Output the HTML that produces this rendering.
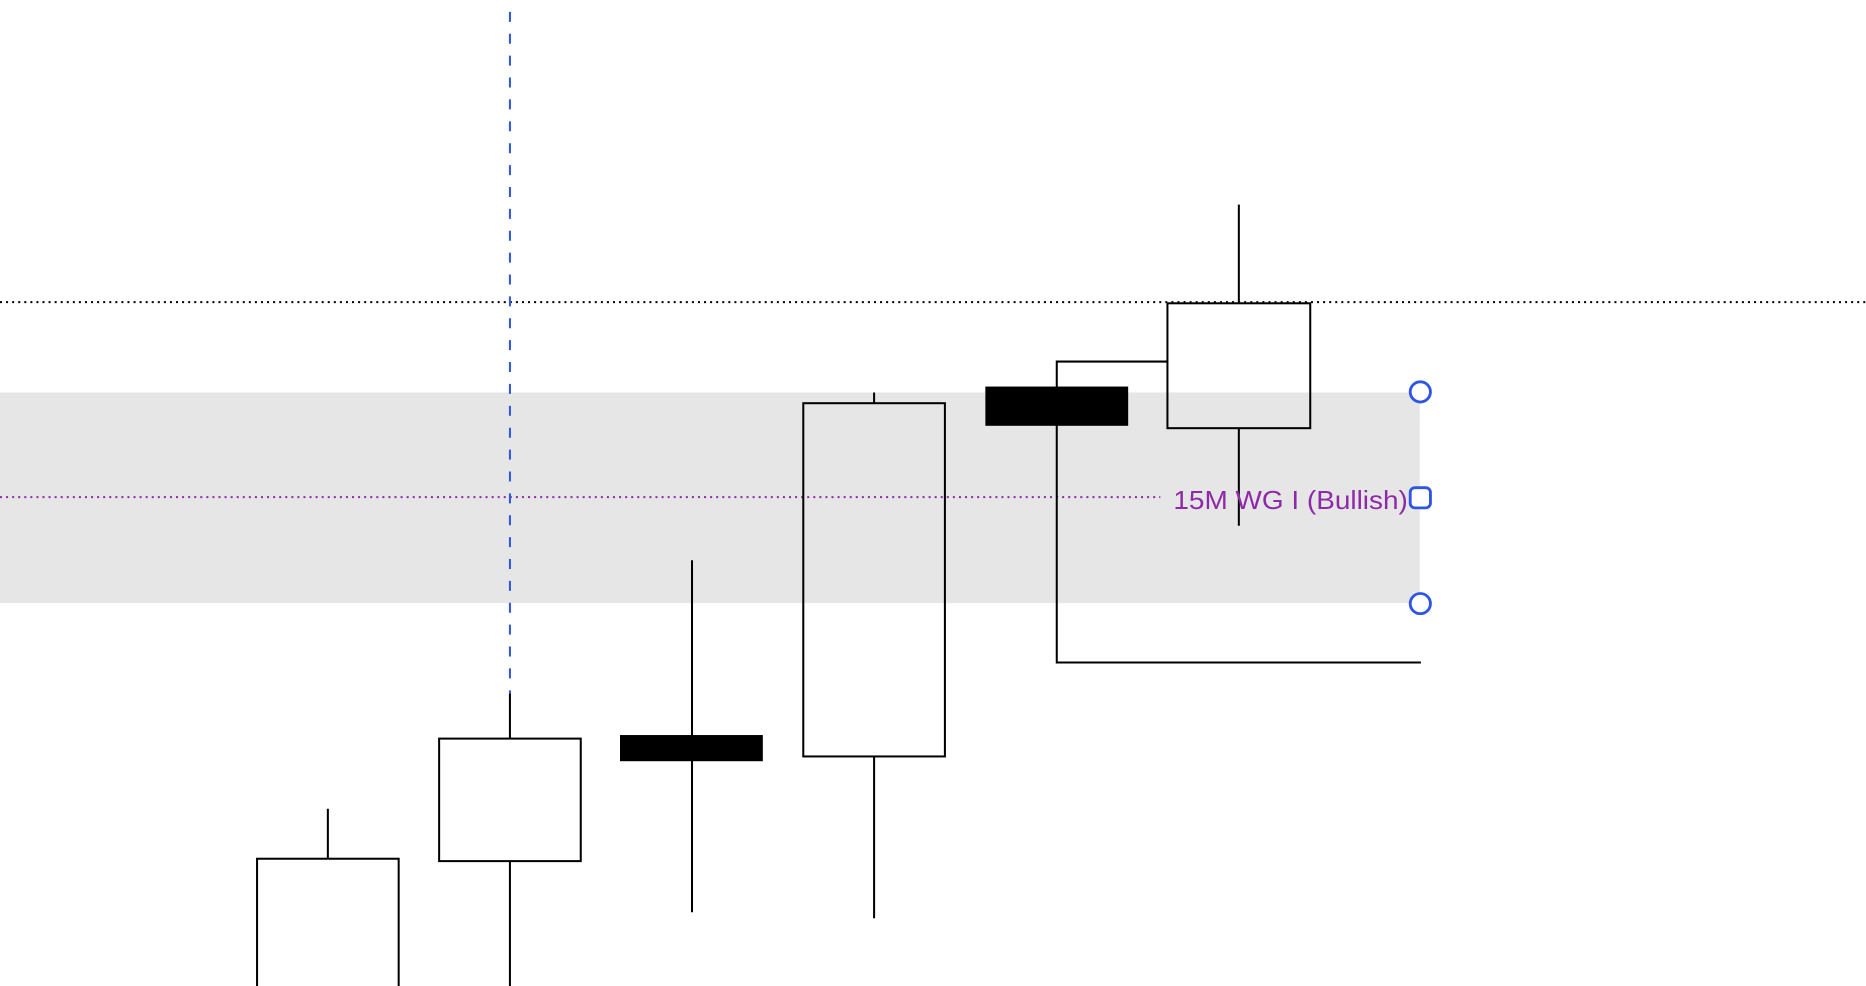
<!DOCTYPE html>
<html><head><style>html,body{margin:0;padding:0;background:#fff;overflow:hidden}svg{display:block}</style></head>
<body>
<svg width="1866" height="986" viewBox="0 0 1568 829" preserveAspectRatio="none" xmlns="http://www.w3.org/2000/svg">
<rect x="0" y="330" width="1193" height="177" fill="#e6e6e6"/>
<line x1="0" y1="254" x2="1568" y2="254" stroke="#000" stroke-width="1.7" stroke-dasharray="1.7 3.4"/>
<line x1="0" y1="418" x2="975" y2="418" stroke="#8e2aa8" stroke-width="1.7" stroke-dasharray="1.7 3.4"/>
<line x1="428.5" y1="10" x2="428.5" y2="583" stroke="#2d55e6" stroke-width="1.7" stroke-dasharray="8.4 10"/>
<g fill="none" stroke="#000" stroke-width="1.7">
<line x1="275.5" y1="680" x2="275.5" y2="722"/>
<rect x="216" y="722" width="119" height="120"/>
<line x1="428.5" y1="583" x2="428.5" y2="621"/>
<line x1="428.5" y1="724" x2="428.5" y2="829"/>
<rect x="369" y="621" width="119" height="103"/>
<line x1="581.5" y1="471" x2="581.5" y2="767"/>
<line x1="734.5" y1="330" x2="734.5" y2="339"/>
<line x1="734.5" y1="636" x2="734.5" y2="772"/>
<rect x="675" y="339" width="119" height="297"/>
<polyline points="981,304 888,304 888,557 1194,557"/>
<line x1="1041" y1="172" x2="1041" y2="255"/>
<line x1="1041" y1="360" x2="1041" y2="442"/>
<rect x="981" y="255" width="120" height="105"/>
</g>
<rect x="521" y="618" width="120" height="22" fill="#000"/>
<rect x="828" y="325" width="120" height="33" fill="#000"/>
<text x="986" y="428" font-family="Liberation Sans, sans-serif" font-size="22" textLength="197" lengthAdjust="spacingAndGlyphs" fill="#8e2aa8">15M WG I (Bullish)</text>
<g fill="#fff" stroke="#2d55e6" stroke-width="2.4">
<circle cx="1193.5" cy="329.5" r="8.5"/>
<circle cx="1193.5" cy="507.5" r="8.5"/>
<rect x="1185" y="410" width="17" height="17" rx="4"/>
</g>
</svg>
</body></html>
